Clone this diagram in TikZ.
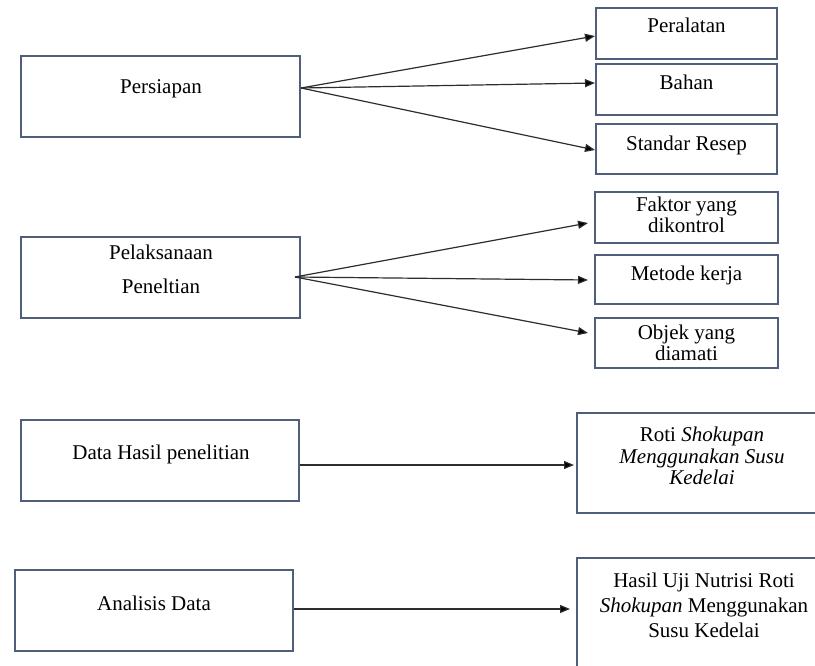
\documentclass[tikz,border=0pt]{standalone}
\usepackage{fontspec}
\setmainfont{Liberation Serif}
\usetikzlibrary{arrows.meta}
\definecolor{boxline}{RGB}{79,94,122}
\definecolor{arrline}{RGB}{45,45,45}
\tikzset{
  box/.style={draw=boxline, line width=2pt, rectangle, inner sep=0pt, fill=white},
  lbl/.style={anchor=base, inner sep=0pt, font=\fontsize{21}{21}\selectfont},
  conn/.style={draw=arrline, line width=1.2pt, -{Triangle[length=10pt,width=8pt,fill=black]}}
}
\begin{document}
\begin{tikzpicture}[x=1pt,y=-1pt]
\useasboundingbox (0,0) rectangle (815,666);
\clip (0,0) rectangle (815,666);
% left boxes
\node[box, minimum width=279pt, minimum height=81pt] (p1) at (160.5,96.5) {};
\node[box, minimum width=279pt, minimum height=81pt] (p2) at (160.5,277.5) {};
\node[box, minimum width=278pt, minimum height=81pt] (p3) at (160,460.5) {};
\node[box, minimum width=278pt, minimum height=81pt] (p4) at (154,610.5) {};
% right small boxes
\node[box, minimum width=181pt, minimum height=51pt] (b1) at (686.5,33.5) {};
\node[box, minimum width=181pt, minimum height=51pt] (b2) at (686.5,89.5) {};
\node[box, minimum width=181pt, minimum height=50pt] (b3) at (686.5,149) {};
\node[box, minimum width=183pt, minimum height=51pt] (c1) at (686.5,217.5) {};
\node[box, minimum width=183pt, minimum height=49pt] (c2) at (686.5,279.5) {};
\node[box, minimum width=183pt, minimum height=50pt] (c3) at (686.5,343) {};
% right large boxes (cut by the picture edge)
\node[box, minimum width=251pt, minimum height=100pt] (r3) at (702.5,463) {};
\node[box, minimum width=253pt, minimum height=142pt] (r4) at (703.5,629) {};
% labels
\node[lbl] (t1) at (161,94) {Persiapan};
\node[lbl] (t2a) at (161,260) {Pelaksanaan};
\node[lbl] (t2b) at (161,294) {Peneltian};
\node[lbl] (t3) at (161,459) {Data Hasil penelitian};
\node[lbl] (t4) at (154,610) {Analisis Data};
\node[lbl] (s1) at (686.5,33) {Peralatan};
\node[lbl] (s2) at (686.5,90) {Bahan};
\node[lbl] (s3) at (686.5,151) {Standar Resep};
\node[lbl] (u1a) at (686.5,212) {Faktor yang};
\node[lbl] (u1b) at (686.5,233) {dikontrol};
\node[lbl] (u2) at (686.5,280) {Metode kerja};
\node[lbl] (u3a) at (686.5,339) {Objek yang};
\node[lbl] (u3b) at (686.5,360) {diamati};
\node[lbl] (v1a) at (702,441) {Roti \textit{Shokupan}};
\node[lbl] (v1b) at (702,463) {\textit{Menggunakan Susu}};
\node[lbl] (v1c) at (702,484) {\textit{Kedelai}};
\node[lbl] (w1a) at (704,587) {Hasil Uji Nutrisi Roti};
\node[lbl] (w1b) at (704,612) {\textit{Shokupan} Menggunakan};
\node[lbl] (w1c) at (704,637) {Susu Kedelai};
% connectors
\draw[conn] ([yshift=8.5pt]p1.east) -- ([yshift=-2.5pt]b1.west);
\draw[conn] ([yshift=8.5pt]p1.east) -- ([yshift=6.5pt]b2.west);
\draw[conn] ([yshift=8.5pt]p1.east) -- ([yshift=-1pt]b3.west);
\draw[conn] ([xshift=-6pt,yshift=0.5pt]p2.east) -- ([xshift=-6pt,yshift=-5.5pt]c1.west);
\draw[conn] ([xshift=-6pt,yshift=0.5pt]p2.east) -- ([xshift=-6pt,yshift=-0.5pt]c2.west);
\draw[conn] ([xshift=-6pt,yshift=0.5pt]p2.east) -- ([xshift=-6pt,yshift=10pt]c3.west);
\coordinate (a3) at ([yshift=-4.5pt]p3.east);
\coordinate (e3) at ([xshift=-2pt]a3 -| r3.west);
\draw[conn] (a3) -- (e3);
\coordinate (a4) at ([yshift=1.5pt]p4.east);
\coordinate (e4) at ([xshift=-6pt]a4 -| r4.west);
\draw[conn] (a4) -- (e4);
\end{tikzpicture}
\end{document}
